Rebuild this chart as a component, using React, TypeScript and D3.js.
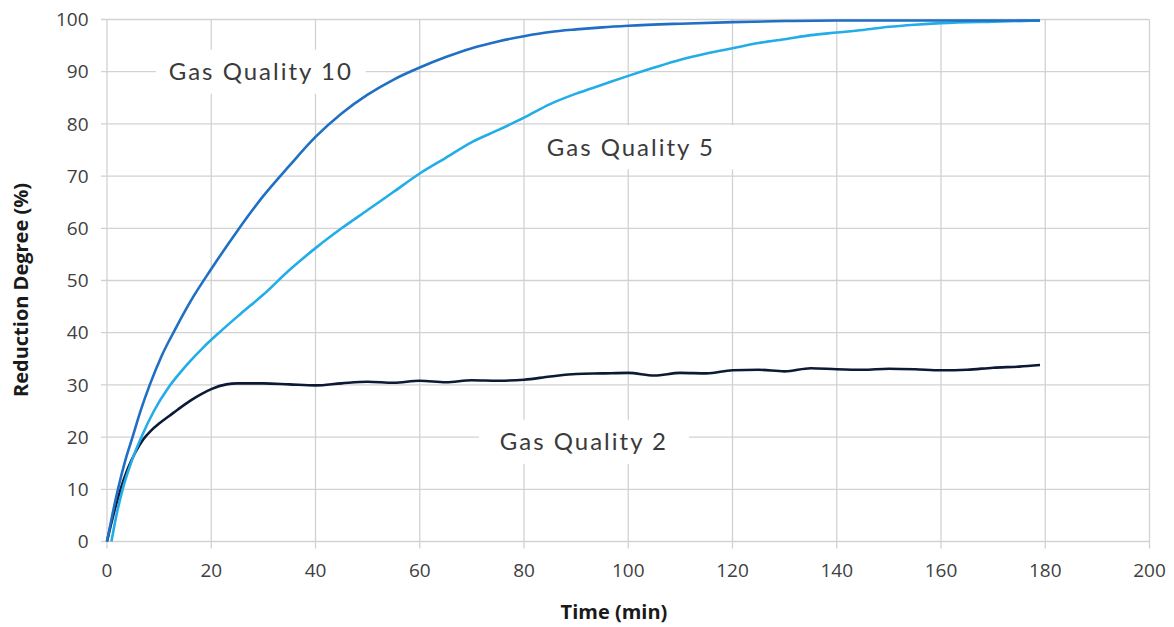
import React, { useEffect, useRef } from "react";
import * as d3 from "d3";

const times10 = [0, 1, 2.1, 3.5, 4.9, 6.5, 8.2, 10.5, 13, 16.5, 20, 25, 30, 35, 40, 45, 50, 55, 60, 65, 70, 75, 80, 85, 90, 95, 100, 110, 120, 130, 140, 150, 160, 170, 179];
const gq10 = [0, 5, 10, 15.5, 20, 25.2, 30, 35.6, 40.5, 46.8, 52.2, 59.5, 66.2, 72, 77.5, 82, 85.6, 88.5, 90.8, 92.8, 94.5, 95.8, 96.8, 97.6, 98.1, 98.5, 98.8, 99.2, 99.5, 99.7, 99.8, 99.8, 99.8, 99.8, 99.8];

const times5 = [0.85, 1.8, 3, 4.7, 6.6, 9, 11.8, 14, 16, 18.5, 21.5, 25.5, 30, 35, 40, 45, 50, 55, 60, 65, 70, 75, 80, 85, 90, 95, 100, 105, 110, 115, 120, 125, 130, 135, 140, 145, 150, 155, 160, 170, 179];
const gq5 = [0, 5, 10, 15.3, 20, 25, 29.5, 32.3, 34.6, 37.2, 40, 43.5, 47.3, 52, 56.2, 60, 63.5, 67, 70.5, 73.5, 76.5, 78.8, 81.2, 83.8, 85.8, 87.5, 89.2, 90.8, 92.3, 93.5, 94.5, 95.5, 96.2, 97, 97.5, 98, 98.6, 99, 99.3, 99.6, 99.8];

const times2 = [0, 1.2, 2.6, 4, 5.4, 6.9, 8.5, 10, 12, 13.6, 16, 18, 20, 22.9, 25, 30, 35, 40, 45, 50, 55, 60, 65, 70, 75, 80, 85, 90, 95, 100, 105, 110, 115, 120, 125, 130, 135, 140, 145, 150, 155, 160, 165, 170, 175, 179];
const gq2 = [0, 5, 10, 14, 17, 19.5, 21.3, 22.6, 24.1, 25.3, 27, 28.2, 29.2, 30.1, 30.3, 30.3, 30.1, 29.9, 30.3, 30.6, 30.4, 30.8, 30.5, 30.9, 30.8, 31.0, 31.6, 32.1, 32.2, 32.3, 31.8, 32.3, 32.2, 32.8, 32.9, 32.6, 33.2, 33.0, 32.9, 33.1, 33.0, 32.8, 32.9, 33.3, 33.5, 33.8];

const xTicks = [0, 20, 40, 60, 80, 100, 120, 140, 160, 180, 200];
const yTicks = [0, 10, 20, 30, 40, 50, 60, 70, 80, 90, 100];

const seriesNames = ["Gas Quality 10", "Gas Quality 5", "Gas Quality 2"];
const seriesColors = ["#1f6fc4", "#22ade9", "#0c1a35"];
const labelTimes = [29.5, 100.5, 91.5];
const labelValues = [90.0, 75.5, 19.1];

const xTitle = "Time (min)";
const yTitle = "Reduction Degree (%)";

export default function App() {
  const ref = useRef<SVGSVGElement>(null);
  useEffect(() => {
    const svg = d3.select(ref.current);
    svg.selectAll("*").remove();
    const x = d3.scaleLinear().domain([0, 200]).range([107, 1149.5]);
    const y = d3.scaleLinear().domain([0, 100]).range([541.5, 19.5]);
    const grid = "#d2d2d2";
    const g = svg.append("g");
    g.selectAll("line.h").data(yTicks).enter().append("line")
      .attr("x1", x(0) - 6).attr("x2", x(200))
      .attr("y1", (d) => y(d)).attr("y2", (d) => y(d))
      .attr("stroke", grid).attr("stroke-width", 1.3);
    g.selectAll("line.v").data(xTicks).enter().append("line")
      .attr("x1", (d) => x(d)).attr("x2", (d) => x(d))
      .attr("y1", y(100)).attr("y2", y(0) + 7)
      .attr("stroke", grid).attr("stroke-width", 1.3);
    g.selectAll("text.yt").data(yTicks).enter().append("text")
      .attr("x", x(0) - 18.5).attr("y", (d) => y(d)).attr("dy", "0.35em")
      .attr("text-anchor", "end").attr("font-family", "Open Sans")
      .attr("font-size", 19).attr("fill", "#404040").text((d) => d);
    g.selectAll("text.xt").data(xTicks).enter().append("text")
      .attr("x", (d) => x(d)).attr("y", y(0) + 29).attr("dy", "0.35em")
      .attr("text-anchor", "middle").attr("font-family", "Open Sans")
      .attr("font-size", 19).attr("fill", "#404040").text((d) => d);
    g.append("text").attr("x", 614).attr("y", 612).attr("dy", "0.35em")
      .attr("text-anchor", "middle").attr("font-family", "Open Sans")
      .attr("font-weight", "bold").attr("font-size", 20).attr("fill", "#1a1a1a").text(xTitle);
    g.append("text").attr("transform", "translate(21,290) rotate(-90)").attr("dy", "0.35em")
      .attr("text-anchor", "middle").attr("font-family", "Open Sans")
      .attr("font-weight", "bold").attr("font-size", 20).attr("fill", "#1a1a1a").text(yTitle);

    const line = d3.line<[number, number]>().x((d) => x(d[0])).y((d) => y(d[1])).curve(d3.curveMonotoneX);
    const sets: [number[], number[]][] = [[times2, gq2], [times5, gq5], [times10, gq10]];
    const cols = [seriesColors[2], seriesColors[1], seriesColors[0]];
    sets.forEach(([t, v], i) => {
      const pts = t.map((tt, j) => [tt, v[j]] as [number, number]);
      g.append("path").attr("d", line(pts) as string).attr("fill", "none")
        .attr("stroke", cols[i]).attr("stroke-width", 2.6).attr("stroke-linejoin", "round");
    });

    seriesNames.forEach((name, i) => {
      const cx = x(labelTimes[i]);
      const cy = y(labelValues[i]);
      g.append("rect").attr("x", cx - 105).attr("y", cy - 22).attr("width", 210).attr("height", 44).attr("fill", "#fff");
      g.append("text").attr("x", cx).attr("y", cy).attr("dy", "0.35em")
        .attr("text-anchor", "middle").attr("font-family", "Lato")
        .attr("font-size", 24).attr("letter-spacing", 2).attr("fill", "#3a3a3a").text(name);
    });
  }, []);
  return (
    <svg ref={ref} width={1174} height={627} style={{ position: "absolute", left: 0, top: 0, background: "#fff" }} />
  );
}
